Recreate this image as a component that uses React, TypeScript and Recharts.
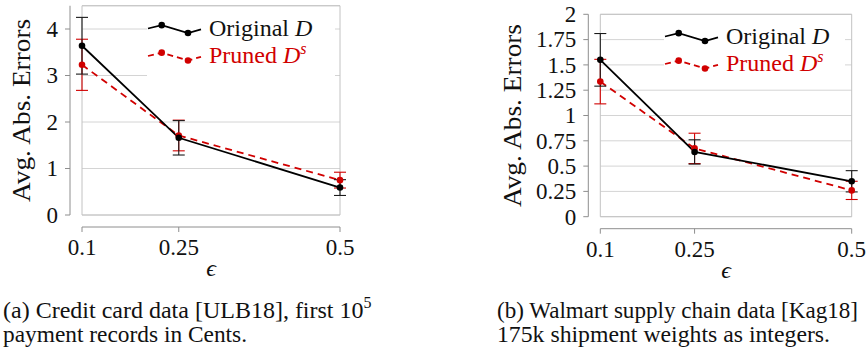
import React from 'react';
import {
  LineChart,
  Line,
  XAxis,
  YAxis,
  CartesianGrid,
  ErrorBar,
  ReferenceLine,
  ReferenceArea,
  Legend,
  Label,
} from 'recharts';

const FONT = 'Liberation Serif';
const RED = '#d10000';
const BLACK = '#000000';
const GRID = '#d4d4d4';
const BOX = '#c2c2c2';
const AXIS = '#8e8e8e';
const TEXT = '#111111';

// shared x values
const epsilons = [0.1, 0.25, 0.5];
const epsTicks = [0.1, 0.25, 0.5];

// (a) Credit card data
const creditOriginal = [3.64, 1.66, 0.59];
const creditOriginalErr = [0.61, 0.37, 0.17];
const creditPruned = [3.23, 1.71, 0.75];
const creditPrunedErr = [0.55, 0.33, 0.17];
const creditYTicks = [0, 1, 2, 3, 4];
const creditYMax = 4.5;

// (b) Walmart supply chain data
const walmartOriginal = [1.55, 0.64, 0.35];
const walmartOriginalErr = [0.26, 0.12, 0.105];
const walmartPruned = [1.335, 0.675, 0.26];
const walmartPrunedErr = [0.22, 0.15, 0.09];
const walmartYTicks = [0, 0.25, 0.5, 0.75, 1, 1.25, 1.5, 1.75, 2];
const walmartYMax = 2;

const yLabelText = 'Avg. Abs. Errors';
const xLabelText = 'ϵ';
const legendOriginal = 'Original';
const legendPruned = 'Pruned';

const captionA1 = '(a) Credit card data [ULB18], first 10';
const captionA1Sup = '5';
const captionA2 = 'payment records in Cents.';
const captionB1 = '(b) Walmart supply chain data [Kag18]';
const captionB2 = '175k shipment weights as integers.';

function buildData(orig: number[], origErr: number[], pruned: number[], prunedErr: number[]) {
  return epsilons.map((e, i) => ({
    eps: e,
    orig: orig[i],
    origErr: origErr[i],
    pruned: pruned[i],
    prunedErr: prunedErr[i],
  }));
}

const creditData = buildData(creditOriginal, creditOriginalErr, creditPruned, creditPrunedErr);
const walmartData = buildData(walmartOriginal, walmartOriginalErr, walmartPruned, walmartPrunedErr);

const txt = (size: number, extra: any = {}) => ({ fontFamily: FONT, fontSize: size, ...extra });

const renderYTick = (p: any) => {
  const { x, y, payload } = p;
  return (
    <g>
      <line x1={x - 17} x2={x - 12} y1={y} y2={y} stroke={AXIS} strokeWidth={1} />
      <text x={x - 24} y={y} dy="0.34em" textAnchor="end" style={txt(23)} fill={TEXT}>
        {String(payload.value)}
      </text>
    </g>
  );
};

const renderXTick = (p: any) => {
  const { x, y, payload } = p;
  return (
    <g>
      <line x1={x} x2={x} y1={y + 12} y2={y + 17} stroke={AXIS} strokeWidth={1} />
      <text x={x} y={y + 32} dy="0.34em" textAnchor="middle" style={txt(23)} fill={TEXT}>
        {String(payload.value)}
      </text>
    </g>
  );
};

function LegendSvg({ width, height }: { width: number; height: number }) {
  const rows = [
    { color: BLACK, dash: undefined as string | undefined, label: legendOriginal, sup: false },
    { color: RED, dash: '6 4', label: legendPruned, sup: true },
  ];
  return (
    <svg width={width} height={height} style={{ display: 'block' }}>
      {rows.map((r, i) => {
        const y0 = 16.5 + i * 27.5;
        const x0 = 1;
        const m1 = { x: x0 + 13.7, y: y0 - 3.35 };
        const m2 = { x: x0 + 40, y: y0 + 4.5 };
        const end = { x: x0 + 53, y: y0 + 0.85 };
        return (
          <g key={i}>
            <path
              d={`M${x0},${y0} L${m1.x},${m1.y} L${m2.x},${m2.y} L${end.x},${end.y}`}
              fill="none"
              stroke={r.color}
              strokeWidth={1.8}
              strokeDasharray={r.dash}
            />
            <circle cx={m1.x} cy={m1.y} r={3.3} fill={r.color} />
            <circle cx={m2.x} cy={m2.y} r={3.3} fill={r.color} />
            <text x={x0 + 61} y={y0 + 7} style={txt(24)} fill={r.color === BLACK ? TEXT : RED}>
              {r.label + ' '}
              <tspan style={{ fontStyle: 'italic' }}>D</tspan>
              {r.sup ? (
                <tspan style={{ fontStyle: 'italic', fontSize: 16 }} dy={-9}>
                  s
                </tspan>
              ) : null}
            </text>
          </g>
        );
      })}
    </svg>
  );
}

type PanelProps = {
  left: number;
  width: number;
  yAxisWidth: number;
  top: number;
  right: number;
  xAxisHeight: number;
  data: any[];
  yTicks: number[];
  yMax: number;
  legend: { left: number; top: number; width: number; height: number };
  yLabelDist: number;
};

function Panel(props: PanelProps) {
  const { left, width, yAxisWidth, top, right, xAxisHeight, data, yTicks, yMax, legend, yLabelDist } = props;
  const height = 300;
  const xMin = epsTicks[0];
  const xMax = epsTicks[epsTicks.length - 1];
  const plotW = width - yAxisWidth - right;
  const plotH = height - top - xAxisHeight;
  const OFF = 12;
  const dx = (OFF * (xMax - xMin)) / plotW;
  const dy = (OFF * yMax) / plotH;

  return (
    <div style={{ position: 'absolute', left, top: 0 }}>
      <LineChart width={width} height={height} data={data} margin={{ top, right, bottom: 0, left: 0 }}>
        <CartesianGrid vertical={false} stroke={GRID} strokeWidth={1} />
        <ReferenceArea
          x1={xMin}
          x2={xMax}
          y1={0}
          y2={yMax}
          fill="none"
          fillOpacity={0}
          stroke={BOX}
          strokeWidth={1}
          ifOverflow="visible"
        />
        <ReferenceLine
          segment={[
            { x: xMin, y: -dy },
            { x: xMax, y: -dy },
          ]}
          stroke={AXIS}
          strokeWidth={1}
          ifOverflow="visible"
        />
        <ReferenceLine
          segment={[
            { x: xMin - dx, y: 0 },
            { x: xMin - dx, y: yMax },
          ]}
          stroke={AXIS}
          strokeWidth={1}
          ifOverflow="visible"
        />
        <XAxis
          type="number"
          dataKey="eps"
          domain={[xMin, xMax]}
          ticks={epsTicks}
          interval={0}
          height={xAxisHeight}
          axisLine={false}
          tickLine={false}
          tickSize={0}
          tickMargin={0}
          tick={renderXTick}
        >
          <Label
            content={(lp: any) => {
              const vb = lp.viewBox || {};
              return (
                <text
                  x={vb.x + vb.width / 2}
                  y={vb.y + 61}
                  textAnchor="middle"
                  style={txt(24, { fontStyle: 'italic' })}
                  fill={TEXT}
                >
                  {xLabelText}
                </text>
              );
            }}
          />
        </XAxis>
        <YAxis
          type="number"
          domain={[0, yMax]}
          ticks={yTicks}
          interval={0}
          width={yAxisWidth}
          axisLine={false}
          tickLine={false}
          tickSize={0}
          tickMargin={0}
          tick={renderYTick}
        >
          <Label
            content={(lp: any) => {
              const vb = lp.viewBox || {};
              const cx = vb.x + vb.width - yLabelDist;
              const cy = vb.y + vb.height / 2;
              return (
                <text
                  x={cx}
                  y={cy}
                  transform={`rotate(-90, ${cx}, ${cy})`}
                  textAnchor="middle"
                  dominantBaseline="central"
                  style={txt(25)}
                  fill={TEXT}
                  textLength={183}
                  lengthAdjust="spacingAndGlyphs"
                >
                  {yLabelText}
                </text>
              );
            }}
          />
        </YAxis>
        <Line
          type="linear"
          dataKey="pruned"
          stroke={RED}
          strokeWidth={1.8}
          strokeDasharray="7 5"
          dot={{ r: 3.3, fill: RED, stroke: 'none' }}
          activeDot={false}
          isAnimationActive={false}
        >
          <ErrorBar dataKey="prunedErr" direction="y" width={6} stroke={RED} strokeWidth={1.1} isAnimationActive={false} />
        </Line>
        <Line
          type="linear"
          dataKey="orig"
          stroke={BLACK}
          strokeWidth={1.8}
          dot={{ r: 3.3, fill: BLACK, stroke: 'none' }}
          activeDot={false}
          isAnimationActive={false}
        >
          <ErrorBar dataKey="origErr" direction="y" width={6} stroke="#1a1a1a" strokeWidth={1.1} isAnimationActive={false} />
        </Line>
        <Legend
          layout="horizontal"
          verticalAlign="middle"
          align="center"
          wrapperStyle={{
            left: legend.left,
            top: legend.top,
            width: legend.width,
            height: legend.height,
            background: '#ffffff',
            lineHeight: 0,
            margin: 0,
            padding: 0,
          }}
          content={() => <LegendSvg width={legend.width} height={legend.height} />}
        />
      </LineChart>
    </div>
  );
}

export default function App() {
  return (
    <div style={{ position: 'absolute', left: 0, top: 0, width: 867, height: 360, background: '#ffffff', overflow: 'hidden', fontFamily: FONT }}>
      <svg width={867} height={360} style={{ position: 'absolute', left: 0, top: 0 }}>
        <g style={txt(24)} fill={TEXT}>
          <text x={3} y={318}>
            {captionA1}
            <tspan style={{ fontSize: 16 }} dy={-10}>
              {captionA1Sup}
            </tspan>
          </text>
          <text x={3} y={342} textLength={244} lengthAdjust="spacingAndGlyphs">
            {captionA2}
          </text>
          <text x={497} y={318} textLength={361} lengthAdjust="spacingAndGlyphs">
            {captionB1}
          </text>
          <text x={497} y={342} textLength={333} lengthAdjust="spacingAndGlyphs">
            {captionB2}
          </text>
        </g>
      </svg>
      <Panel
        left={0}
        width={400}
        yAxisWidth={82}
        top={5.75}
        right={60}
        xAxisHeight={85}
        data={creditData}
        yTicks={creditYTicks}
        yMax={creditYMax}
        legend={{ left: 147, top: 12, width: 188, height: 66 }}
        yLabelDist={61}
      />
      <Panel
        left={420}
        width={447}
        yAxisWidth={180.3}
        top={14.3}
        right={15.3}
        xAxisHeight={83.3}
        data={walmartData}
        yTicks={walmartYTicks}
        yMax={walmartYMax}
        legend={{ left: 244, top: 20, width: 181, height: 60 }}
        yLabelDist={88}
      />
    </div>
  );
}
